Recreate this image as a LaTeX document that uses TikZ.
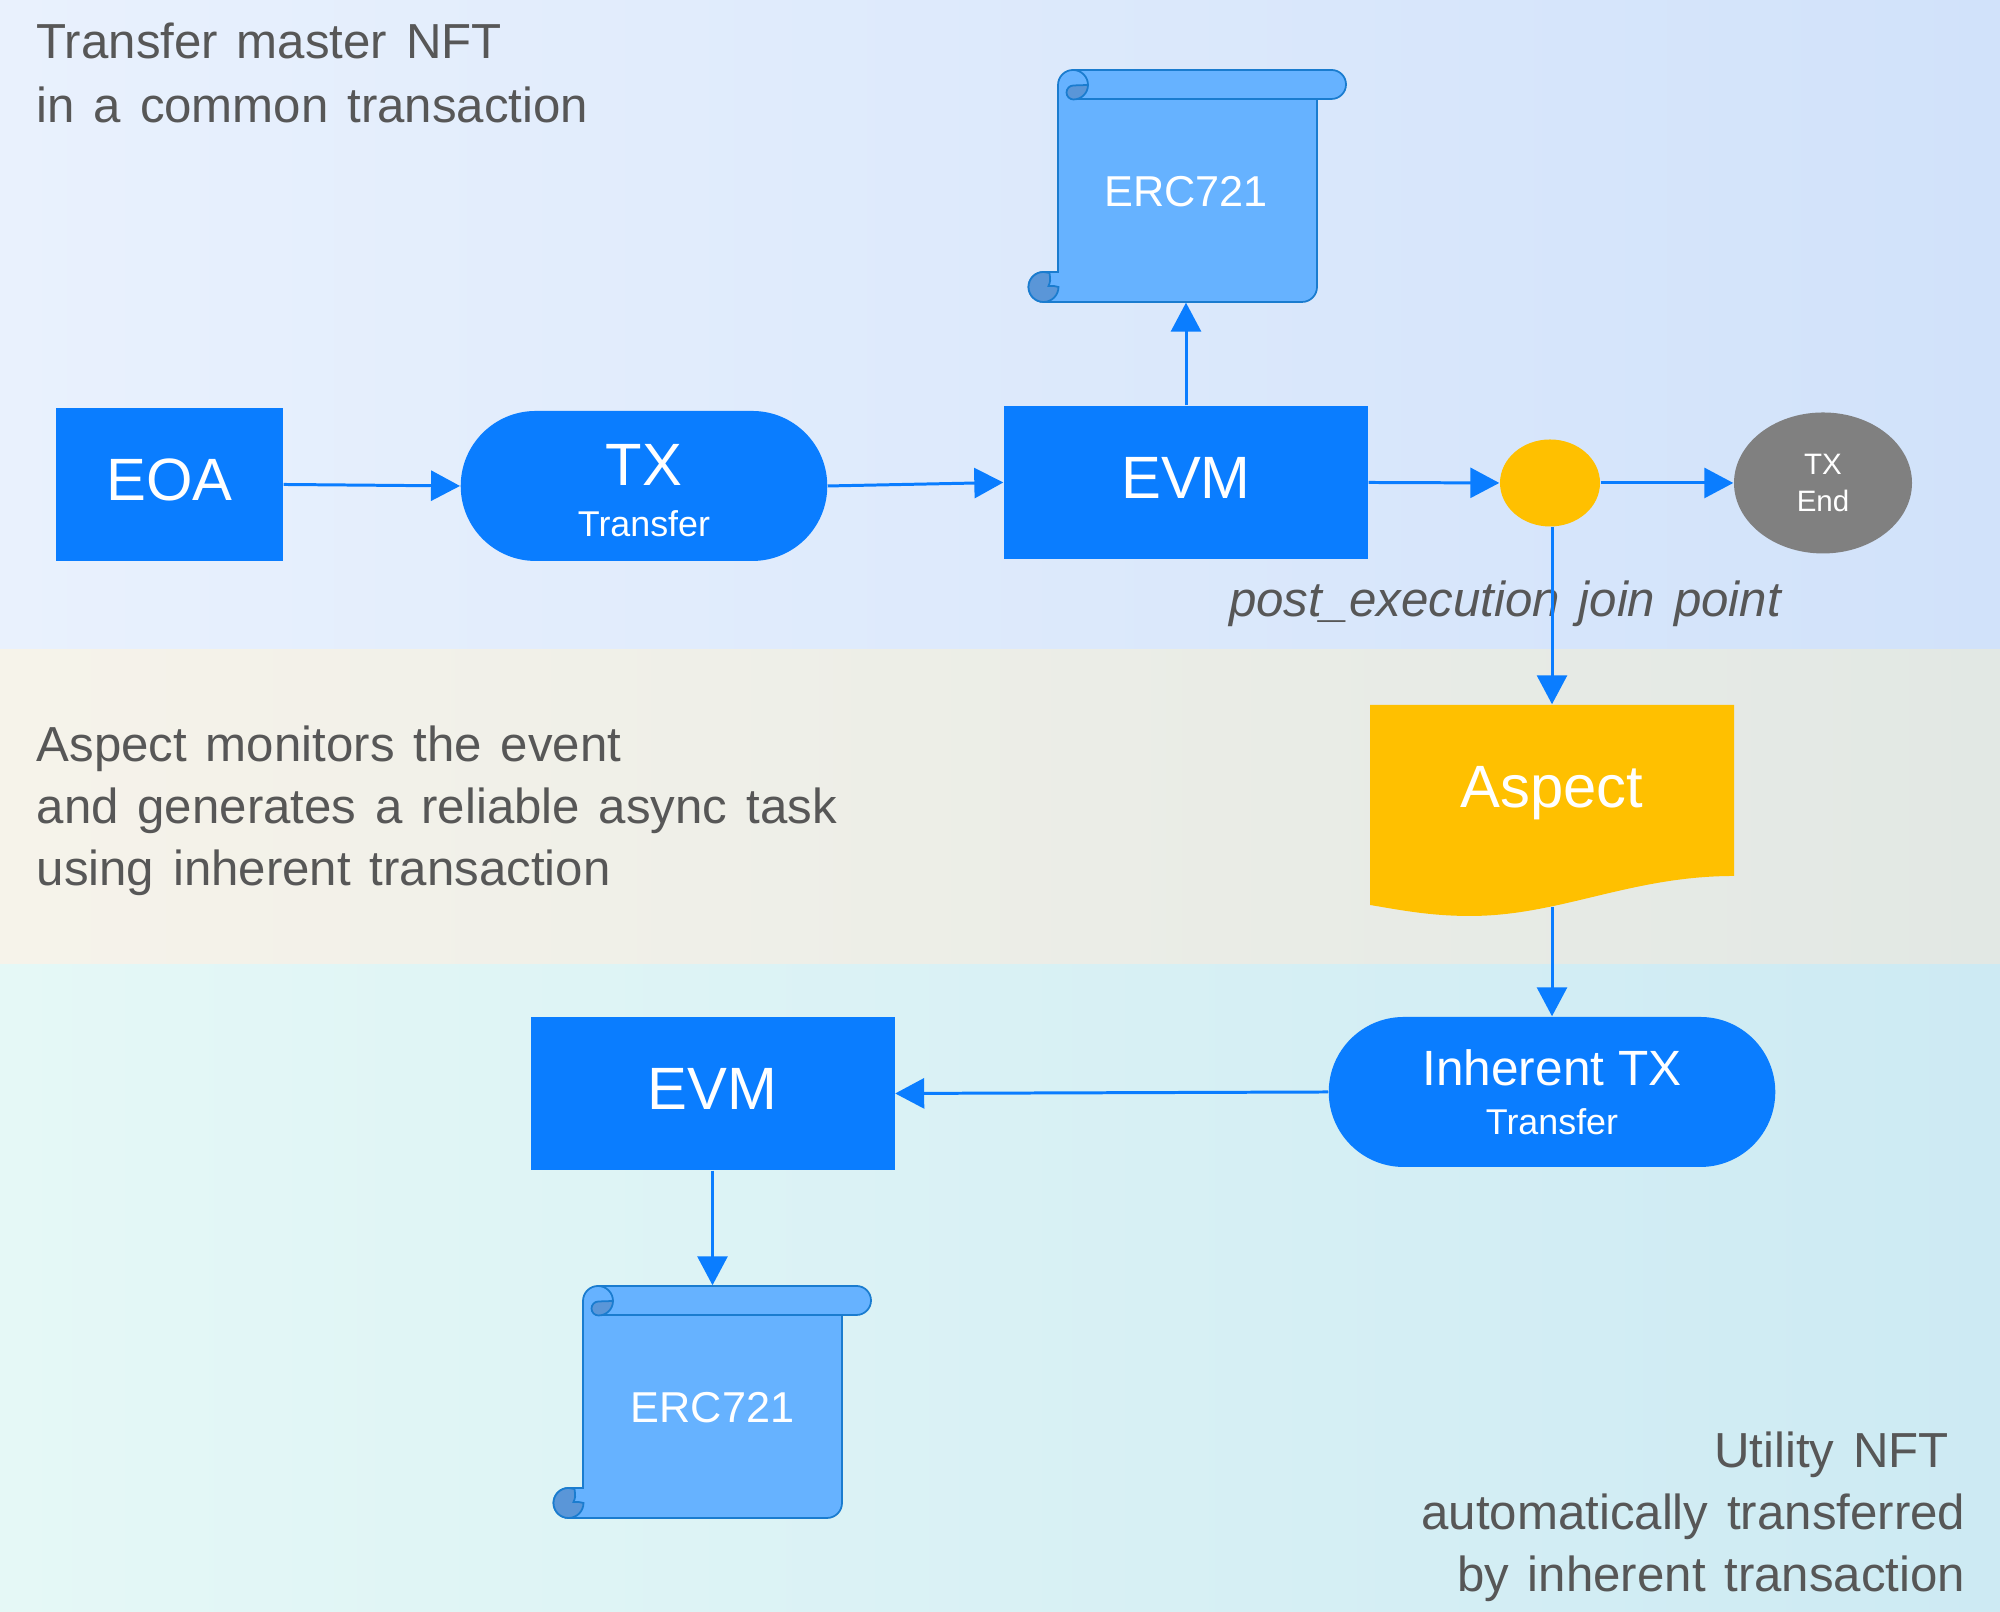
\documentclass[tikz,border=0pt]{standalone}
\usepackage{fontspec}
\setmainfont{Liberation Sans}
\newfontfamily\notefont{Liberation Sans}[WordSpace=1.38]
\usetikzlibrary{arrows.meta,shapes.geometric,shapes.misc}
\definecolor{boxblue}{HTML}{0A7DFF}
\definecolor{scrollblue}{HTML}{66B2FF}
\definecolor{scrolldark}{HTML}{5A96D8}
\definecolor{scrollline}{HTML}{1A7CCF}
\definecolor{aspectyellow}{HTML}{FFC000}
\definecolor{endgray}{HTML}{808080}
\definecolor{notegray}{HTML}{575757}
\definecolor{bandoneleft}{RGB}{233,241,253}
\definecolor{bandoneright}{RGB}{209,226,250}
\definecolor{bandtwoleft}{RGB}{246,243,234}
\definecolor{bandtworight}{RGB}{226,232,228}
\definecolor{bandthreeleft}{RGB}{229,248,246}
\definecolor{bandthreeright}{RGB}{205,234,243}
\newcommand{\subline}[1]{{\fontsize{10.2pt}{12pt}\selectfont #1}}
\tikzset{
    flow/.style={draw=boxblue, line width=0.85pt, -{Triangle[length=2.9mm,width=3mm]}},
    bluebox/.style={rectangle, fill=boxblue, text=white, minimum width=3.64cm, minimum height=1.53cm, text depth=.1cm, font=\fontsize{17pt}{20pt}\selectfont},
    txpill/.style={rounded rectangle, fill=boxblue, text=white, align=center, minimum height=1.5cm, font=\fontsize{17pt}{20pt}\selectfont},
    scrolllabel/.style={rectangle, text=white, minimum width=2.59cm, minimum height=2.32cm, text height=.41cm, font=\fontsize{12.3pt}{15pt}\selectfont},
    note/.style={text=notegray, inner sep=0pt, font=\notefont\fontsize{14pt}{17.6pt}\selectfont},
    scrollshape/.pic={
        \draw[fill=scrollblue, draw=scrollline, line width=0.5pt] (-1.145,1.16) -- (1.44,1.16) arc (90:-90:.145) -- (1.295,.87) -- (1.295,-1.01) arc (0:-90:.15) -- (-1.44,-1.16) arc (270:90:.15) -- (-1.295,-.86) -- (-1.295,1.01) arc (180:90:.15) -- cycle;
        \draw[draw=scrollline, line width=0.5pt] (1.44,.87) -- (-1.145,.87);
        \draw[fill=scrolldark, draw=scrollline, line width=0.5pt] (-.995,1.01) arc (0:-90:.145) arc (270:180:.07) arc (180:90:.07) -- cycle;
        \draw[draw=scrollline, line width=0.5pt] (-1.145,1.16) arc (90:0:.15);
        \draw[fill=scrolldark, draw=scrollline, line width=0.5pt] (-1.44,-.86) arc (90:270:.15) arc (-90:0:.15) .. controls (-1.33,-1) .. (-1.39,-1) .. controls (-1.37,-.95) .. (-1.38,-.87) -- cycle;
    }
}
\begin{document}
\begin{tikzpicture}
    \useasboundingbox (0,0) rectangle (20,16.12);
    \shade[left color=bandoneleft, right color=bandoneright] (0,9.62) rectangle (20,16.12);
    \shade[left color=bandtwoleft, right color=bandtworight] (0,6.47) rectangle (20,9.62);
    \shade[left color=bandthreeleft, right color=bandthreeright] (0,0) rectangle (20,6.47);

    \node[note, anchor=west, align=left, font=\notefont\fontsize{14pt}{18.2pt}\selectfont] (notetop) at (0.36,15.39) {Transfer master NFT\\in a common transaction};
    \node[note, anchor=west, align=left] (notemid) at (0.36,8.015) {Aspect monitors the event\\and generates a reliable async task\\using inherent transaction};
    \node[note, anchor=east, align=right] (notebot) at (19.66,.95) {Utility NFT\hspace*{.33em}\\automatically transferred\\by inherent transaction};
    \node[note, font=\notefont\fontsize{14pt}{17pt}\selectfont\itshape] (joinlabel) at (15.05,10.08) {post\_execution join point};

    \node[bluebox, minimum width=2.27cm] (eoa) at (1.695,11.275) {EOA};
    \node[txpill, minimum width=3.90cm] (tx) at (6.44,11.26) {\rule{0pt}{14.2pt}TX\\[-5.6pt]\subline{Transfer}};
    \node[bluebox] (evmtop) at (11.86,11.295) {EVM};
    \pic at (11.875,14.26) {scrollshape};
    \node[scrolllabel] (erctop) at (11.86,14.26) {ERC721};
    \node[ellipse, fill=aspectyellow, minimum width=1cm, minimum height=.87cm, inner sep=0pt] (joindot) at (15.50,11.29) {};
    \node[ellipse, fill=endgray, text=white, align=center, minimum width=1.78cm, minimum height=1.41cm, inner sep=0pt, font=\fontsize{8.4pt}{10.6pt}\selectfont] (txend) at (18.23,11.29) {TX\\End};

    \fill[aspectyellow] (13.70,9.07) -- (17.34,9.07) -- (17.34,7.36) .. controls (16.3,7.36) and (15.6,6.96) .. (14.7,6.96) .. controls (14.3,6.96) and (14.0,7.02) .. (13.70,7.07) -- cycle;
    \node[rectangle, minimum width=3.64cm, minimum height=2.01cm] (aspect) at (15.52,8.065) {};
    \node[text=white, font=\fontsize{17pt}{20pt}\selectfont] (aspecttext) at (15.52,8.185) {Aspect};

    \node[txpill, minimum width=4.70cm, font=\fontsize{14.1pt}{17pt}\selectfont] (inherent) at (15.52,5.20) {Inherent TX\\[-3.1pt]\subline{Transfer}};
    \node[bluebox] (evmbot) at (7.125,5.185) {EVM};
    \pic at (7.125,2.10) {scrollshape};
    \node[scrolllabel] (ercbot) at (7.125,2.10) {ERC721};

    \draw[flow] (eoa.east) -- (tx.west);
    \draw[flow] (tx.east) -- (evmtop.west);
    \draw[flow] (evmtop.north) -- (erctop.south);
    \draw[flow] (evmtop.east) -- (joindot.west);
    \draw[flow] (joindot.east) -- (txend.west);
    \draw[flow] (aspect.north |- joindot.south) -- (aspect.north);
    \draw[flow] (aspect.south) -- (inherent.north);
    \draw[flow] (inherent.west) -- (evmbot.east);
    \draw[flow] (evmbot.south) -- (ercbot.north);
\end{tikzpicture}
\end{document}
